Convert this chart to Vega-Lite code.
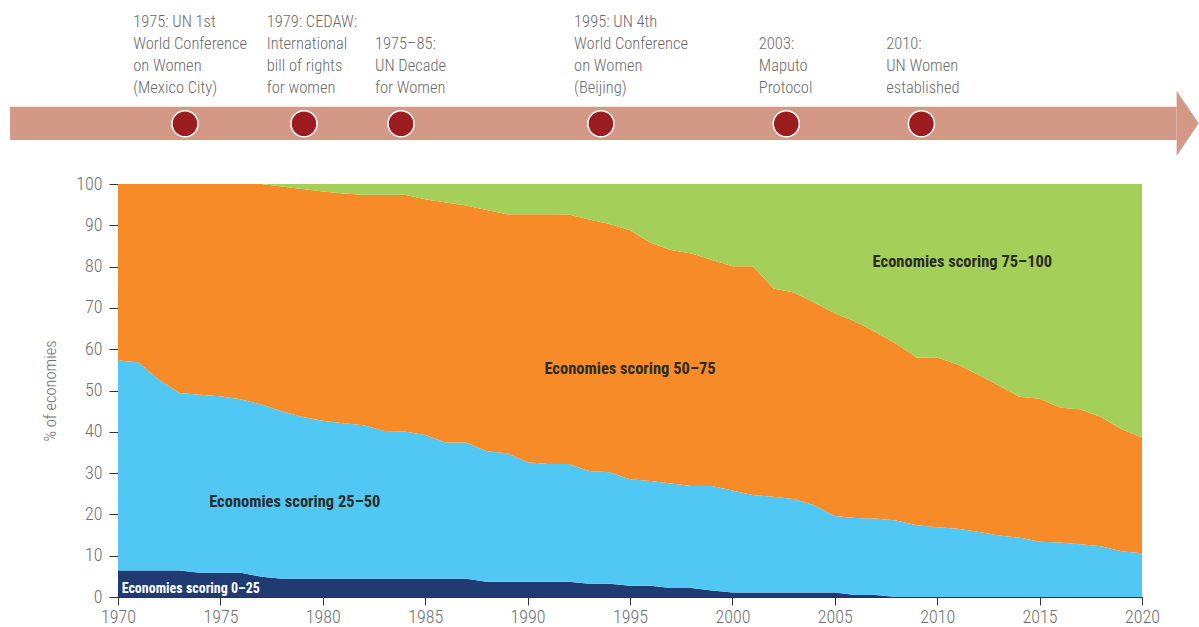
{
  "$schema": "https://vega.github.io/schema/vega-lite/v6.json",
  "width": 1024,
  "height": 413,
  "autosize": {"type": "none"},
  "padding": {"left": 118, "top": 184, "right": 57, "bottom": 30},
  "background": "white",
  "config": {
    "view": {"stroke": null},
    "font": "Roboto Condensed, Roboto, sans-serif"
  },
  "datasets": {
    "shares": [
      {"year": 1970, "s0_25": 6.4, "s25_50": 50.9, "s50_75": 42.7, "s75_100": 0},
      {"year": 1971, "s0_25": 6.4, "s25_50": 50.4, "s50_75": 43.2, "s75_100": 0},
      {"year": 1972, "s0_25": 6.4, "s25_50": 46.2, "s50_75": 47.4, "s75_100": 0},
      {"year": 1973, "s0_25": 6.4, "s25_50": 43.0, "s50_75": 50.6, "s75_100": 0},
      {"year": 1974, "s0_25": 5.9, "s25_50": 43.1, "s50_75": 51.0, "s75_100": 0},
      {"year": 1975, "s0_25": 5.9, "s25_50": 42.7, "s50_75": 51.4, "s75_100": 0},
      {"year": 1976, "s0_25": 5.9, "s25_50": 42.0, "s50_75": 52.1, "s75_100": 0},
      {"year": 1977, "s0_25": 4.9, "s25_50": 41.7, "s50_75": 53.4, "s75_100": 0},
      {"year": 1978, "s0_25": 4.4, "s25_50": 40.6, "s50_75": 54.4, "s75_100": 0.6},
      {"year": 1979, "s0_25": 4.4, "s25_50": 39.2, "s50_75": 55.2, "s75_100": 1.2},
      {"year": 1980, "s0_25": 4.4, "s25_50": 38.3, "s50_75": 55.5, "s75_100": 1.8},
      {"year": 1981, "s0_25": 4.4, "s25_50": 37.7, "s50_75": 55.6, "s75_100": 2.3},
      {"year": 1982, "s0_25": 4.4, "s25_50": 37.2, "s50_75": 55.8, "s75_100": 2.6},
      {"year": 1983, "s0_25": 4.4, "s25_50": 35.8, "s50_75": 57.2, "s75_100": 2.6},
      {"year": 1984, "s0_25": 4.4, "s25_50": 35.7, "s50_75": 57.3, "s75_100": 2.6},
      {"year": 1985, "s0_25": 4.4, "s25_50": 34.8, "s50_75": 57.1, "s75_100": 3.7},
      {"year": 1986, "s0_25": 4.4, "s25_50": 33.0, "s50_75": 58.1, "s75_100": 4.5},
      {"year": 1987, "s0_25": 4.4, "s25_50": 33.0, "s50_75": 57.4, "s75_100": 5.2},
      {"year": 1988, "s0_25": 3.7, "s25_50": 31.6, "s50_75": 58.4, "s75_100": 6.3},
      {"year": 1989, "s0_25": 3.7, "s25_50": 31.1, "s50_75": 57.9, "s75_100": 7.3},
      {"year": 1990, "s0_25": 3.7, "s25_50": 28.9, "s50_75": 60.1, "s75_100": 7.3},
      {"year": 1991, "s0_25": 3.7, "s25_50": 28.5, "s50_75": 60.5, "s75_100": 7.3},
      {"year": 1992, "s0_25": 3.7, "s25_50": 28.5, "s50_75": 60.4, "s75_100": 7.4},
      {"year": 1993, "s0_25": 3.2, "s25_50": 27.3, "s50_75": 60.9, "s75_100": 8.6},
      {"year": 1994, "s0_25": 3.2, "s25_50": 27.0, "s50_75": 60.1, "s75_100": 9.7},
      {"year": 1995, "s0_25": 2.7, "s25_50": 25.8, "s50_75": 60.3, "s75_100": 11.2},
      {"year": 1996, "s0_25": 2.7, "s25_50": 25.4, "s50_75": 57.7, "s75_100": 14.2},
      {"year": 1997, "s0_25": 2.2, "s25_50": 25.3, "s50_75": 56.5, "s75_100": 16.0},
      {"year": 1998, "s0_25": 2.2, "s25_50": 24.7, "s50_75": 56.3, "s75_100": 16.8},
      {"year": 1999, "s0_25": 1.6, "s25_50": 25.3, "s50_75": 54.7, "s75_100": 18.4},
      {"year": 2000, "s0_25": 1.1, "s25_50": 24.7, "s50_75": 54.3, "s75_100": 19.9},
      {"year": 2001, "s0_25": 1.1, "s25_50": 23.6, "s50_75": 55.4, "s75_100": 19.9},
      {"year": 2002, "s0_25": 1.1, "s25_50": 23.2, "s50_75": 50.4, "s75_100": 25.3},
      {"year": 2003, "s0_25": 1.1, "s25_50": 22.6, "s50_75": 50.0, "s75_100": 26.3},
      {"year": 2004, "s0_25": 1.1, "s25_50": 21.1, "s50_75": 49.1, "s75_100": 28.7},
      {"year": 2005, "s0_25": 1.1, "s25_50": 18.5, "s50_75": 49.1, "s75_100": 31.3},
      {"year": 2006, "s0_25": 0.5, "s25_50": 18.6, "s50_75": 47.6, "s75_100": 33.3},
      {"year": 2007, "s0_25": 0.5, "s25_50": 18.5, "s50_75": 45.1, "s75_100": 35.9},
      {"year": 2008, "s0_25": 0, "s25_50": 18.5, "s50_75": 42.8, "s75_100": 38.7},
      {"year": 2009, "s0_25": 0, "s25_50": 17.4, "s50_75": 40.6, "s75_100": 42.0},
      {"year": 2010, "s0_25": 0, "s25_50": 16.9, "s50_75": 41.1, "s75_100": 42.0},
      {"year": 2011, "s0_25": 0, "s25_50": 16.5, "s50_75": 39.8, "s75_100": 43.7},
      {"year": 2012, "s0_25": 0, "s25_50": 15.8, "s50_75": 38.0, "s75_100": 46.2},
      {"year": 2013, "s0_25": 0, "s25_50": 14.9, "s50_75": 36.3, "s75_100": 48.8},
      {"year": 2014, "s0_25": 0, "s25_50": 14.4, "s50_75": 34.1, "s75_100": 51.5},
      {"year": 2015, "s0_25": 0, "s25_50": 13.4, "s50_75": 34.6, "s75_100": 52.0},
      {"year": 2016, "s0_25": 0, "s25_50": 13.2, "s50_75": 32.7, "s75_100": 54.1},
      {"year": 2017, "s0_25": 0, "s25_50": 12.8, "s50_75": 32.6, "s75_100": 54.6},
      {"year": 2018, "s0_25": 0, "s25_50": 12.3, "s50_75": 31.3, "s75_100": 56.4},
      {"year": 2019, "s0_25": 0, "s25_50": 11.1, "s50_75": 29.5, "s75_100": 59.4},
      {"year": 2020, "s0_25": 0, "s25_50": 10.6, "s50_75": 28.0, "s75_100": 61.4}
    ],
    "timeline": [
      {"start": 1964.73, "end": 2021.69, "low": 110.65, "high": 118.72, "mid": 114.69}
    ],
    "events": [
      {"pos": 1973.27, "level": 114.6},
      {"pos": 1979.08, "level": 114.6},
      {"pos": 1983.82, "level": 114.6},
      {"pos": 1993.58, "level": 114.6},
      {"pos": 2002.63, "level": 114.6},
      {"pos": 2009.23, "level": 114.6}
    ],
    "eventNotes": [
      {"tx": 1970.74, "ty": 138.1, "label": "1975: UN 1st\nWorld Conference\non Women\n(Mexico City)"},
      {"tx": 1977.26, "ty": 138.1, "label": "1979: CEDAW:\nInternational\nbill of rights\nfor women"},
      {"tx": 1982.55, "ty": 132.8, "label": "1975–85:\nUN Decade\nfor Women"},
      {"tx": 1992.27, "ty": 138.1, "label": "1995: UN 4th\nWorld Conference\non Women\n(Beijing)"},
      {"tx": 2001.29, "ty": 132.8, "label": "2003:\nMaputo\nProtocol"},
      {"tx": 2007.51, "ty": 132.8, "label": "2010:\nUN Women\nestablished"}
    ],
    "areaLabels": [
      {"lx": 1978.63, "ly": 21.86, "label": "Economies scoring 25–50"},
      {"lx": 1995.0, "ly": 54.0, "label": "Economies scoring 50–75"},
      {"lx": 2011.23, "ly": 80.0, "label": "Economies scoring 75–100"}
    ],
    "bottomLabel": [
      {"lx": 1970.18, "ly": 1.04, "label": "Economies scoring 0–25"}
    ]
  },
  "layer": [
    {
      "data": {"name": "shares"},
      "transform": [{"fold": ["s0_25", "s25_50", "s50_75", "s75_100"], "as": ["band", "value"]}],
      "mark": {"type": "area", "interpolate": "linear"},
      "encoding": {
        "x": {
          "field": "year", "type": "quantitative",
          "scale": {"domain": [1970, 2020], "nice": false, "zero": false},
          "axis": {
            "values": [1970, 1975, 1980, 1985, 1990, 1995, 2000, 2005, 2010, 2015, 2020],
            "format": "d", "title": null, "grid": false,
            "tickSize": 8, "tickColor": "#333333", "domainColor": "#333333",
            "labelFontSize": 18, "labelFontWeight": 300, "labelColor": "#707070", "labelPadding": 3,
            "labelFlush": false, "labelOverlap": false
          }
        },
        "y": {
          "field": "value", "type": "quantitative", "stack": "zero",
          "scale": {"domain": [0, 100], "nice": false},
          "axis": {
            "values": [0, 10, 20, 30, 40, 50, 60, 70, 80, 90, 100],
            "title": "% of economies", "grid": false,
            "titleFontSize": 16.5, "titleColor": "#707070", "titleFontWeight": 300,
            "titleX": -63, "titleY": 206.5, "titleBaseline": "alphabetic", "titleAngle": -90, "titleAlign": "center",
            "tickSize": 9, "tickColor": "#333333", "domainColor": "#333333",
            "labelFontSize": 18, "labelFontWeight": 300, "labelColor": "#707070", "labelPadding": 7
          }
        },
        "color": {
          "field": "band", "type": "nominal",
          "scale": {"domain": ["s0_25", "s25_50", "s50_75", "s75_100"], "range": ["#1F3B71", "#51C8F4", "#F68B28", "#A4CF58"]},
          "legend": null
        },
        "order": {"field": "band", "type": "ordinal", "sort": "ascending"}
      }
    },
    {
      "data": {"name": "areaLabels"},
      "mark": {"type": "text", "align": "center", "baseline": "alphabetic", "fontSize": 16.5, "fontWeight": "bold", "color": "#2B2B2B"},
      "encoding": {
        "x": {"field": "lx", "type": "quantitative"},
        "y": {"field": "ly", "type": "quantitative"},
        "text": {"field": "label"}
      }
    },
    {
      "data": {"name": "bottomLabel"},
      "mark": {"type": "text", "align": "left", "baseline": "alphabetic", "fontSize": 14, "fontWeight": "bold", "color": "#FFFFFF"},
      "encoding": {
        "x": {"field": "lx", "type": "quantitative"},
        "y": {"field": "ly", "type": "quantitative"},
        "text": {"field": "label"}
      }
    },
    {
      "data": {"name": "timeline"},
      "mark": {"type": "rect", "color": "#D39886", "clip": false},
      "encoding": {
        "x": {"field": "start", "type": "quantitative"},
        "x2": {"field": "end"},
        "y": {"field": "low", "type": "quantitative"},
        "y2": {"field": "high"}
      }
    },
    {
      "data": {"name": "timeline"},
      "mark": {"type": "point", "shape": "M 0 -1 L 0.677 0 L 0 1 Z", "filled": true, "color": "#D39886", "opacity": 1, "size": 4264, "clip": false},
      "encoding": {
        "x": {"field": "end", "type": "quantitative"},
        "y": {"field": "mid", "type": "quantitative"}
      }
    },
    {
      "data": {"name": "events"},
      "mark": {"type": "circle", "size": 680, "fill": "#9B1D20", "stroke": "#FFFFFF", "strokeWidth": 1.5, "opacity": 1, "clip": false},
      "encoding": {
        "x": {"field": "pos", "type": "quantitative"},
        "y": {"field": "level", "type": "quantitative"}
      }
    },
    {
      "data": {"name": "eventNotes"},
      "mark": {"type": "text", "align": "left", "baseline": "alphabetic", "lineBreak": "\n", "lineHeight": 22, "fontSize": 16.5, "fontWeight": 300, "color": "#6B6B6B", "clip": false},
      "encoding": {
        "x": {"field": "tx", "type": "quantitative"},
        "y": {"field": "ty", "type": "quantitative"},
        "text": {"field": "label"}
      }
    }
  ]
}
